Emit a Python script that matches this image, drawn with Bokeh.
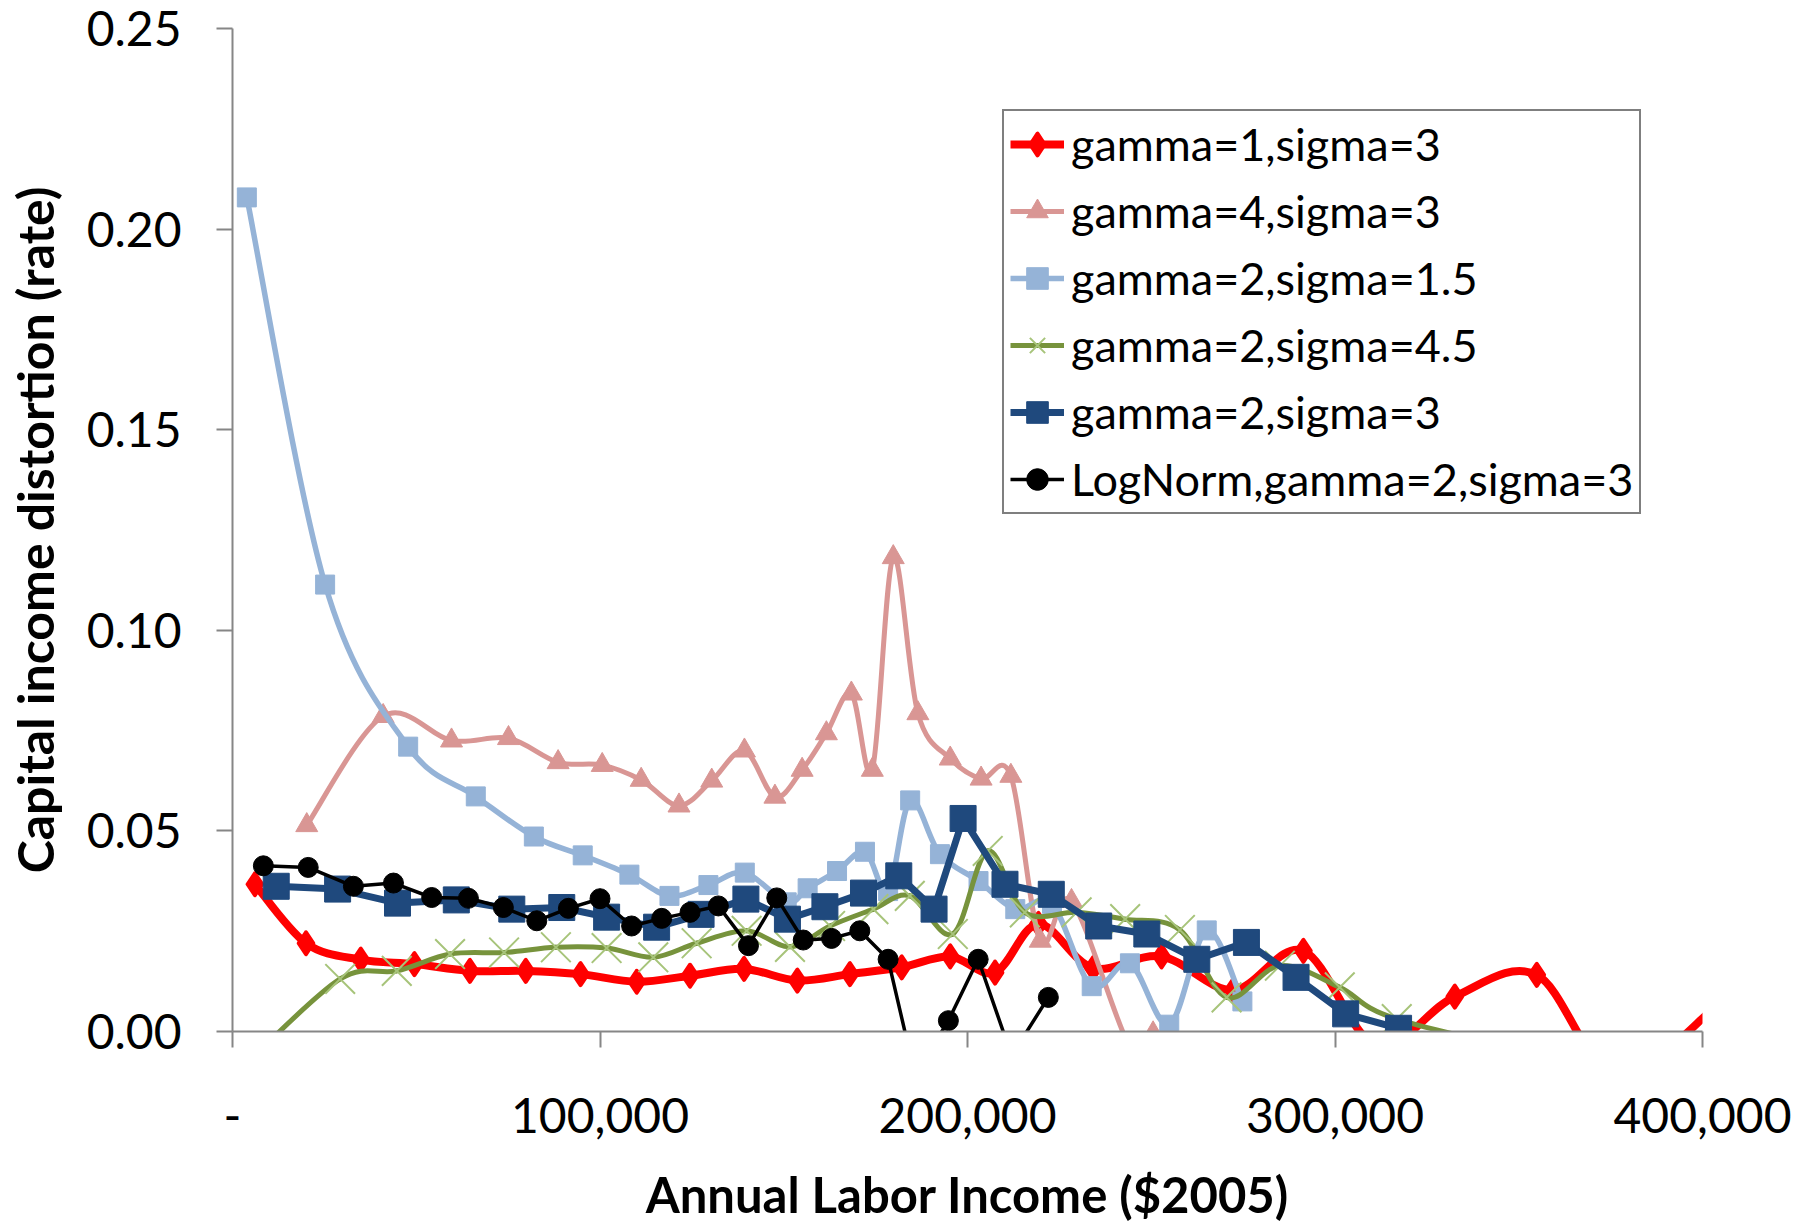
import math
from bokeh.plotting import figure
from bokeh.models import (Range1d, FixedTicker, NumeralTickFormatter, Legend, LegendItem)
from bokeh.embed import file_html
from bokeh.resources import INLINE

# ---------------- data ----------------
x_ticks = [0, 100000, 200000, 300000, 400000]
y_ticks = [0.0, 0.05, 0.10, 0.15, 0.20, 0.25]
x_title = "Annual Labor Income ($2005)"
y_title = "Capital income distortion (rate)"

names = ["gamma=1,sigma=3", "gamma=4,sigma=3", "gamma=2,sigma=1.5",
         "gamma=2,sigma=4.5", "gamma=2,sigma=3", "LogNorm,gamma=2,sigma=3"]

red_x = [6100, 20000, 34900, 49500, 64600, 79800, 94700, 110000, 124500, 139200,
         153700, 168000, 182100, 195300, 207500, 219300, 234200, 252800, 272300,
         291400, 311300, 332600, 354900, 376500, 404000]
red_y = [0.0367, 0.0220, 0.0179, 0.0168, 0.0151, 0.0151, 0.0143, 0.0124, 0.0139, 0.0156,
         0.0127, 0.0143, 0.0160, 0.0187, 0.0147, 0.0268, 0.0158, 0.0187, 0.0103,
         0.0201, -0.0035, 0.0087, 0.0141, -0.0110, 0.0065]

pink_x = [20200, 41000, 59600, 75100, 88600, 100600, 111200, 121500, 130400, 139300,
          147600, 155000, 161600, 168400, 174100, 179800, 186500, 195300, 203700,
          211800, 219800, 228300, 244000, 250500]
pink_y = [0.0514, 0.0786, 0.0725, 0.0731, 0.0671, 0.0664, 0.0627, 0.0563, 0.0625, 0.0700,
          0.0585, 0.0652, 0.0743, 0.0842, 0.0652, 0.1182, 0.0793, 0.0680, 0.0630,
          0.0637, 0.0226, 0.0325, -0.0035, -0.0005]

lb_x = [3900, 25200, 47800, 66200, 82000, 95300, 108000, 118900, 129500, 139400,
        150800, 156500, 164500, 172100, 178400, 184400, 192500, 203000, 213000,
        223000, 233800, 244200, 254900, 265100, 274800]
lb_y = [0.2079, 0.1114, 0.0710, 0.0586, 0.0486, 0.0439, 0.0391, 0.0338, 0.0365, 0.0396,
        0.0322, 0.0357, 0.0400, 0.0448, 0.0350, 0.0576, 0.0442, 0.0375, 0.0305,
        0.0318, 0.0113, 0.0170, 0.0017, 0.0252, 0.0075]

gr_x = [4300, 29300, 44700, 59200, 73900, 88000, 101800, 114500, 126300, 139900,
        151700, 162600, 174400, 184300, 196000, 205500, 215600, 229700, 242900,
        257800, 270500, 285000, 301300, 316800, 365000]
gr_y = [-0.0075, 0.0131, 0.0151, 0.0193, 0.0197, 0.0210, 0.0208, 0.0185, 0.0220, 0.0251,
        0.0211, 0.0263, 0.0305, 0.0338, 0.0243, 0.0450, 0.0297, 0.0297, 0.0280,
        0.0253, 0.0085, 0.0164, 0.0110, 0.0031, -0.0075]

db_x = [11900, 28600, 44900, 60900, 76000, 89600, 101800, 115400, 127500, 139700,
        151000, 161200, 171700, 181300, 190900, 198800, 210200, 222800, 235700,
        248800, 262400, 275900, 289400, 302900, 317300]
db_y = [0.0362, 0.0355, 0.0320, 0.0328, 0.0305, 0.0309, 0.0285, 0.0260, 0.0292, 0.0330,
        0.0280, 0.0311, 0.0345, 0.0388, 0.0305, 0.0531, 0.0367, 0.0342, 0.0263,
        0.0243, 0.0180, 0.0222, 0.0135, 0.0044, 0.0008]

bk_x = [8400, 20600, 32900, 43800, 54200, 64200, 73700, 82800, 91400, 100000,
        108600, 116800, 124500, 132200, 140400, 148100, 155300, 163000, 170700,
        178400, 185500, 191000, 194800, 202900, 212000, 222000]
bk_y = [0.0413, 0.0409, 0.0362, 0.0370, 0.0334, 0.0332, 0.0309, 0.0276, 0.0307, 0.0331,
        0.0263, 0.0282, 0.0297, 0.0313, 0.0214, 0.0333, 0.0228, 0.0232, 0.0251,
        0.0180, -0.0100, -0.0030, 0.0027, 0.0180, -0.0060, 0.0085]

# ---------------- figure ----------------
FONT = "Lato"
p = figure(width=1794, height=1225, x_range=Range1d(0, 400000), y_range=Range1d(0, 0.25),
           output_backend="svg", toolbar_location=None,
           min_border_left=232, min_border_right=92, min_border_top=28, min_border_bottom=192)
p.xgrid.visible = False
p.ygrid.visible = False
p.outline_line_color = None
p.background_fill_color = "white"
p.border_fill_color = "white"

for ax in (p.xaxis[0], p.yaxis[0]):
    ax.axis_line_color = "#868686"
    ax.axis_line_width = 2
    ax.major_tick_line_color = "#868686"
    ax.major_tick_line_width = 2
    ax.major_tick_out = 16
    ax.major_tick_in = 0
    ax.minor_tick_out = 0
    ax.minor_tick_in = 0
    ax.major_label_text_font = FONT
    ax.major_label_text_font_size = "48px"
    ax.major_label_text_color = "#000000"
    ax.axis_label_text_font = FONT
    ax.axis_label_text_font_style = "bold"
    ax.axis_label_text_color = "#000000"

p.xaxis[0].ticker = FixedTicker(ticks=x_ticks)
p.xaxis[0].formatter = NumeralTickFormatter(format="0,0")
p.xaxis[0].major_label_overrides = {0: "-"}
p.xaxis[0].major_label_standoff = 50
p.xaxis[0].axis_label = x_title
p.xaxis[0].axis_label_text_font_size = "49px"
p.xaxis[0].axis_label_standoff = 29
p.yaxis[0].ticker = FixedTicker(ticks=y_ticks)
p.yaxis[0].formatter = NumeralTickFormatter(format="0.00")
p.yaxis[0].major_label_standoff = 35
p.yaxis[0].axis_label = y_title
p.yaxis[0].axis_label_text_font_size = "50px"
p.yaxis[0].axis_label_standoff = 19


def smooth(xs, ys):
    """Bezier segments through the points (Excel-style smoothed line)."""
    n = len(xs)
    d = dict(x0=[], y0=[], x1=[], y1=[], cx0=[], cy0=[], cx1=[], cy1=[])
    for i in range(n - 1):
        xp, yp = (xs[i - 1], ys[i - 1]) if i > 0 else (xs[i], ys[i])
        xn, yn = (xs[i + 2], ys[i + 2]) if i + 2 < n else (xs[i + 1], ys[i + 1])
        d["x0"].append(xs[i]); d["y0"].append(ys[i])
        d["x1"].append(xs[i + 1]); d["y1"].append(ys[i + 1])
        d["cx0"].append(xs[i] + (xs[i + 1] - xp) / 6.0)
        d["cy0"].append(ys[i] + (ys[i + 1] - yp) / 6.0)
        d["cx1"].append(xs[i + 1] - (xn - xs[i]) / 6.0)
        d["cy1"].append(ys[i + 1] - (yn - ys[i]) / 6.0)
    return d


series = [
    # x, y, line colour, line width, smoothed, marker, size, fill, marker line colour, marker line width
    (red_x, red_y, "#FF0000", 8, True, "diamond", 22, "#FF0000", "#FF0000", 4),
    (pink_x, pink_y, "#D99694", 5, True, "triangle", 22, "#D99694", "#D99694", 1),
    (lb_x, lb_y, "#95B3D7", 5.5, True, "square", 19, "#95B3D7", "#95B3D7", 1),
    (gr_x, gr_y, "#77933C", 5, True, "x", 42, None, "#A7C47A", 2),
    (db_x, db_y, "#1F497D", 7, False, "square", 26, "#1F497D", "#1F497D", 1),
    (bk_x, bk_y, "#000000", 3.5, False, "circle", 20, "#000000", "#000000", 1),
]

items = []
for name, (xs, ys, col, lw, sm, mk, ms, fill, mlc, mlw) in zip(names, series):
    if sm:
        p.bezier(source=smooth(xs, ys), x0="x0", y0="y0", x1="x1", y1="y1",
                 cx0="cx0", cy0="cy0", cx1="cx1", cy1="cy1",
                 line_color=col, line_width=lw, line_cap="round")
        leg_line = p.line(xs[:1], ys[:1], line_color=col, line_width=lw)
    else:
        leg_line = p.line(xs, ys, line_color=col, line_width=lw, line_join="round")
    sc = p.scatter(xs, ys, marker=mk, size=ms, line_join="round",
                   fill_color=fill, line_color=mlc, line_width=mlw)
    items.append(LegendItem(label=name, renderers=[leg_line, sc]))

legend = Legend(items=items, location=(770, 517), orientation="vertical",
                label_text_font=FONT, label_text_font_size="45px",
                label_text_color="#000000", label_text_baseline="middle",
                glyph_width=54, glyph_height=54, label_height=54,
                label_standoff=7, spacing=13, padding=6, margin=0,
                border_line_color="#000000", border_line_width=2,
                background_fill_color="white", background_fill_alpha=1.0)
p.add_layout(legend, "center")

open("out.html", "w").write(file_html(p, INLINE))
